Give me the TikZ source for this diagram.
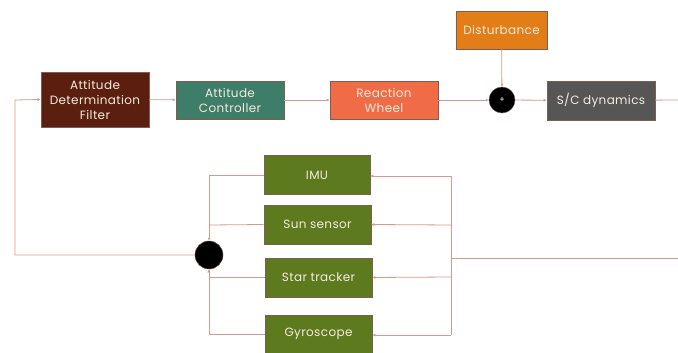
\documentclass[tikz,border=0pt]{standalone}
\usepackage{fontspec}
\setmainfont{Poppins}[LetterSpace=3]
\usetikzlibrary{arrows.meta}

\definecolor{filterbrown}{HTML}{5B1F0F}
\definecolor{ctrlgreen}{HTML}{3E7D68}
\definecolor{wheelorange}{HTML}{EF6C47}
\definecolor{distorange}{HTML}{E27D18}
\definecolor{dyngray}{HTML}{565656}
\definecolor{sensolive}{HTML}{5E7A1F}
\definecolor{wire}{HTML}{D7998B}
\definecolor{boxtext}{HTML}{F6EBDD}

\tikzset{
	block/.style={draw=wire!60!black, line width=0.6pt, text=boxtext, align=center,
		font=\fontsize{12}{15}\selectfont, minimum width=108pt, minimum height=38pt, inner sep=1pt},
	sensor/.style={block, fill=sensolive, minimum width=107pt, minimum height=39pt},
	junction/.style={circle, fill=black, draw=wire!50!black, line width=0.5pt, minimum size=28pt, inner sep=0pt},
	sig/.style={draw=wire, line width=0.8pt},
	sigarr/.style={sig, -{Latex[length=3pt,width=3pt]}}
}

\begin{document}
\begin{tikzpicture}[x=1pt,y=-1pt]
			%%%%% START %%%%%
			\useasboundingbox (0,0) rectangle (678,353);
			
			% forward path
			\node[block, fill=filterbrown, minimum height=55pt] (adf) at (95,99.5) {Attitude\\Determination\\Filter};
			\node[block, fill=ctrlgreen] (ctrl) at (230,100) {Attitude\\Controller};
			\node[block, fill=wheelorange] (wheel) at (384,100) {Reaction\\Wheel};
			\node[block, fill=distorange, minimum width=91pt] (dist) at (501.5,30) {Disturbance};
			\node[junction, minimum size=26pt, text=white, font=\fontsize{8}{8}\selectfont] (sum) at (502,100) {+};
			\node[block, fill=dyngray, minimum height=39pt] (dyn) at (601,100.5) {S/C dynamics};
			\coordinate (out) at (678,100);
			
			\draw[sigarr] (adf) -- (ctrl);
			\draw[sigarr] (ctrl) -- (wheel);
			\draw[sigarr] (wheel) -- (sum);
			\draw[sigarr] (dist) -- (sum);
			\draw[sigarr] (sum) -- (dyn);
			\draw[sig] (dyn) -- (out);
			
			% sensors
			\node[sensor, minimum width=106pt] (imu) at (317,175) {IMU};
			\node[sensor] (sun) at (317.5,224.5) {Sun sensor};
			\node[sensor] (star) at (318.5,277.5) {Star tracker};
			\node[sensor, minimum height=38pt] (gyro) at (318.5,334) {Gyroscope};
			
			% measurement bus on the right
			\coordinate (busin) at (678,258);
			\coordinate (busmid) at (451,258);
			\coordinate (bustop) at (451,176);
			\coordinate (busbot) at (451,335);
			\draw[sig] (busin) -- (busmid);
			\draw[sig] (bustop) -- (busbot);
			\draw[sigarr] (bustop) -- (imu.east |- bustop);
			\draw[sigarr] (451,225) -- (sun.east);
			\draw[sigarr] (451,277) -- (star.east);
			\draw[sigarr] (busbot) -- (gyro.east |- busbot);
			
			% fusion node and feedback
			\node[junction] (fuse) at (209,255) {};
			\coordinate (sunjoin) at (209,225);
			\draw[sigarr] (imu.west) -| (fuse.north);
			\draw[sig] (sun.west) -- (sunjoin);
			\draw[sigarr] (star.west) -| (fuse.south);
			\draw[sigarr] (gyro.west) -| (fuse.south);
			
			\coordinate (fbcorner) at (15,100);
			\draw[sigarr] (fuse.west) -| (fbcorner) -- (adf.west);
			%%%%% END %%%%%
\end{tikzpicture}
\end{document}
